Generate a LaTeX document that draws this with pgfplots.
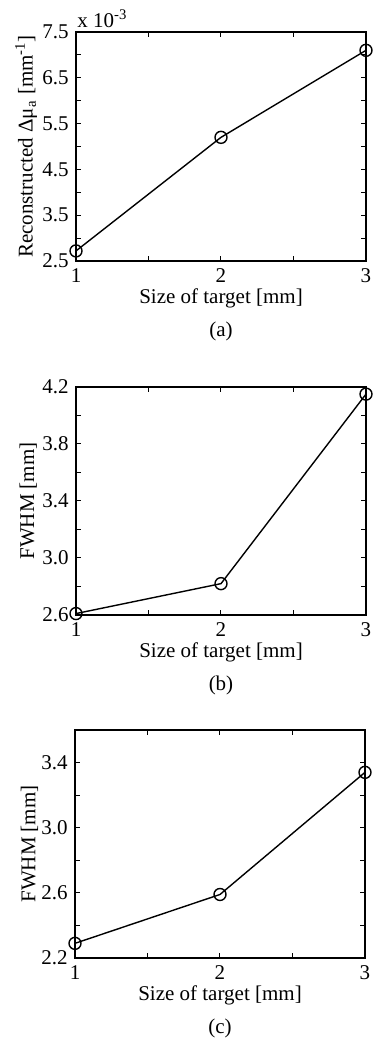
\documentclass[border=0pt]{standalone}
\usepackage{fontspec}
\setmainfont{Liberation Serif}
\usepackage{pgfplots}
\pgfplotsset{compat=1.18}
\pgfplotsset{
  mystyle/.style={
    width=145pt, scale only axis,
    xmin=1, xmax=3, xtick={1,2,3}, minor x tick num=1, minor y tick num=1,
    tick align=inside, major tick length=2.5pt, minor tick length=2.5pt,
    axis line style={line width=0.6pt},
    every tick/.style={line width=0.5pt, black},
    /pgf/number format/assume math mode=true,
    tick label style={font=\fontsize{10.5}{12}\selectfont},
    label style={font=\fontsize{10.5}{12}\selectfont},
    yticklabel style={/pgf/number format/fixed, /pgf/number format/fixed zerofill, /pgf/number format/precision=1},
    xticklabel style={/pgf/number format/precision=0},
    clip=false,
    xlabel={Size of target [mm]},
    xlabel style={at={(axis description cs:0.5,-0.162)}, anchor=center},
    ylabel style={at={(axis description cs:-0.165,0.5)}, anchor=center},
  },
  myline/.style={black, line width=0.7pt, mark=o, mark size=3pt, mark options={solid}},
}
\begin{document}
\fontsize{10.5}{12}\selectfont
\begin{tikzpicture}
\path[use as bounding box] (0,0) rectangle (186.5pt,519.5pt);
% (a)
\begin{axis}[mystyle, at={(38pt,389pt)}, anchor=south west, height=114.5pt,
  ymin=2.5, ymax=7.5, ytick={2.5,3.5,4.5,5.5,6.5,7.5},
  ylabel={Reconstructed Δμ\textsubscript{a} [mm\textsuperscript{-1}]},
  ylabel style={at={(axis description cs:-0.172,0.5)}}]
\addplot[myline] coordinates {(1,2.72) (2,5.20) (3,7.10)};
\node[anchor=base west, inner sep=0pt, xshift=0.5pt, yshift=2.5pt] at (rel axis cs:0,1) {x 10\textsuperscript{-3}};
\node[anchor=center] at (rel axis cs:0.5,0) [yshift=-35pt] {(a)};
\end{axis}
% (b)
\begin{axis}[mystyle, at={(38pt,212pt)}, anchor=south west, height=114pt,
  ymin=2.6, ymax=4.2, ytick={2.6,3.0,3.4,3.8,4.2},
  ylabel={FWHM [mm]}]
\addplot[myline] coordinates {(1,2.61) (2,2.82) (3,4.15)};
\node[anchor=center] at (rel axis cs:0.5,0) [yshift=-35pt] {(b)};
\end{axis}
% (c)
\begin{axis}[mystyle, at={(37.5pt,40.5pt)}, anchor=south west, height=114pt,
  ymin=2.2, ymax=3.6, ytick={2.2,2.6,3.0,3.4},
  ylabel={FWHM [mm]},
  ylabel style={at={(axis description cs:-0.157,0.5)}}]
\addplot[myline] coordinates {(1,2.29) (2,2.59) (3,3.34)};
\node[anchor=center] at (rel axis cs:0.5,0) [yshift=-35pt] {(c)};
\end{axis}
\end{tikzpicture}
\end{document}
